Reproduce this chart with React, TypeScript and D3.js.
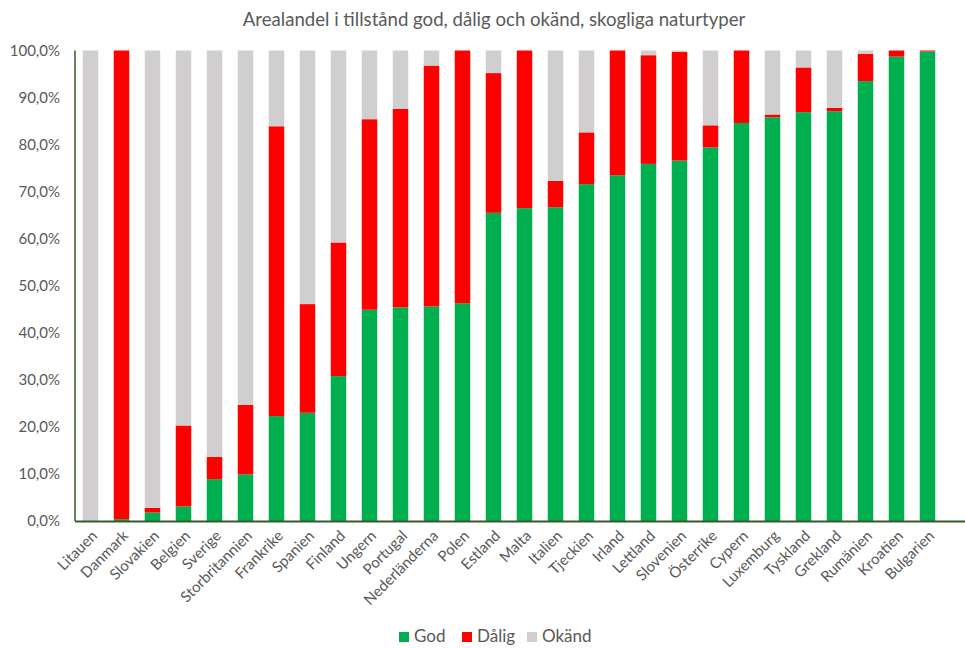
import React from "react";
import * as d3 from "d3";

const countries = [
  "Litauen", "Danmark", "Slovakien", "Belgien", "Sverige", "Storbritannien",
  "Frankrike", "Spanien", "Finland", "Ungern", "Portugal", "Nederländerna",
  "Polen", "Estland", "Malta", "Italien", "Tjeckien", "Irland", "Lettland",
  "Slovenien", "Österrike", "Cypern", "Luxemburg", "Tyskland", "Grekland",
  "Rumänien", "Kroatien", "Bulgarien",
];

// Share of area (%) per condition
const god = [
  0, 0.4, 1.8, 3.1, 8.9, 9.9, 22.3, 23.0, 30.8, 44.9, 45.4, 45.6, 46.3, 65.5,
  66.5, 66.7, 71.6, 73.5, 75.9, 76.6, 79.4, 84.6, 85.8, 86.9, 87.1, 93.5, 98.7, 99.8,
];
const dalig = [
  0, 99.6, 1.0, 17.2, 4.7, 14.8, 61.6, 23.1, 28.4, 40.5, 42.2, 51.2, 53.7, 29.7,
  33.5, 5.6, 11.0, 26.5, 23.1, 23.1, 4.7, 15.4, 0.6, 9.5, 0.7, 5.8, 1.3, 0.2,
];
const okand = [
  100, 0, 97.2, 79.7, 86.4, 75.3, 16.1, 53.9, 40.8, 14.6, 12.4, 3.2, 0, 4.8,
  0, 27.7, 17.4, 0, 1.0, 0.3, 15.9, 0, 13.6, 3.6, 12.2, 0.7, 0, 0,
];

const seriesNames = ["God", "Dålig", "Okänd"];
const seriesColors = ["#00B050", "#FF0000", "#D0CECE"];
const yTicks = [0, 10, 20, 30, 40, 50, 60, 70, 80, 90, 100];

const W = 965;
const H = 648;
const M = { left: 75, right: 943, top: 50.5, bottom: 521 };
const FONT = "Lato, 'Open Sans', sans-serif";
const TEXT = "#595959";
const AXIS = "#3B5B26";

export default function App() {
  const x = d3.scaleBand<string>().domain(countries).range([M.left, M.right]).paddingInner(0.5).paddingOuter(0.25);
  const y = d3.scaleLinear().domain([0, 100]).range([M.bottom, M.top]);

  const rows = countries.map((c, i) => ({ c, God: god[i], "Dålig": dalig[i], "Okänd": okand[i] }));
  const stacked = d3.stack<any>().keys(seriesNames)(rows);
  const fmt = (v: number) => v.toFixed(1).replace(".", ",") + "%";

  const legendX = [399, 462, 527];

  return (
    <svg width={W} height={H} style={{ position: "absolute", left: 0, top: 0, background: "#fff" }} fontFamily={FONT}>
      <text x={494} y={26} textAnchor="middle" fontSize={18.6} fill={TEXT}>
        Arealandel i tillstånd god, dålig och okänd, skogliga naturtyper
      </text>

      {yTicks.map((t) => (
        <text key={t} x={60} y={y(t)} dy="0.35em" textAnchor="end" fontSize={15} fill={TEXT}>
          {fmt(t)}
        </text>
      ))}

      {stacked.map((s, si) => (
        <g key={seriesNames[si]} fill={seriesColors[si]}>
          {s.map((d, i) => {
            const h = y(d[0]) - y(d[1]);
            if (h <= 0) return null;
            return <rect key={i} x={x(countries[i])} y={y(d[1])} width={x.bandwidth()} height={h} />;
          })}
        </g>
      ))}

      <line x1={M.left} x2={M.left} y1={M.top} y2={M.bottom} stroke={AXIS} strokeWidth={1.5} />
      <line x1={M.left} x2={W} y1={M.bottom + 0.5} y2={M.bottom + 0.5} stroke={AXIS} strokeWidth={1.8} />

      {countries.map((c) => {
        const cx = (x(c) as number) + x.bandwidth() / 2 + 4;
        const cy = M.bottom + 12;
        return (
          <text key={c} transform={`translate(${cx},${cy}) rotate(-45)`} textAnchor="end" fontSize={15} fill={TEXT} dy="0.35em">
            {c}
          </text>
        );
      })}

      {seriesNames.map((n, i) => (
        <g key={n} transform={`translate(${legendX[i]},636)`}>
          <rect x={0} y={-4} width={10} height={10} fill={seriesColors[i]} />
          <text x={15} y={0} dy="0.36em" fontSize={17} fill={TEXT}>{n}</text>
        </g>
      ))}
    </svg>
  );
}
